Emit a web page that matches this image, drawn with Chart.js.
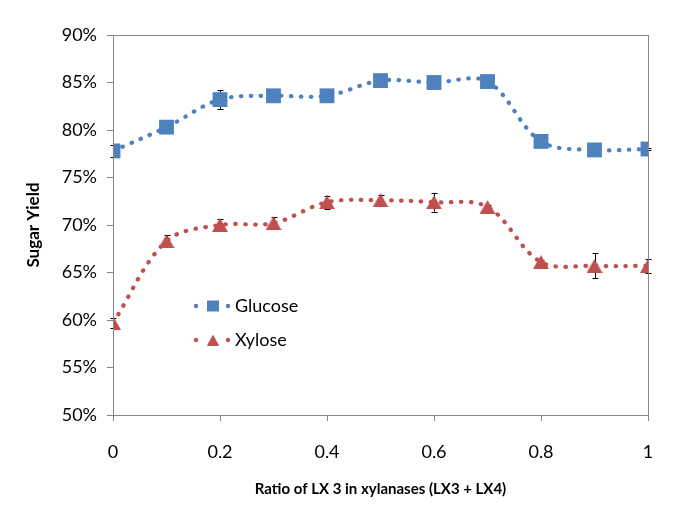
<!DOCTYPE html>
<html lang="en">
<head>
  <meta charset="UTF-8">
  <title>Sugar Yield</title>
  <script src="https://cdn.jsdelivr.net/npm/chart.js"></script>
  <style>
    html, body { margin: 0; padding: 0; background: #fff; }
  </style>
</head>
<body>
  <canvas id="chart" width="685" height="524"></canvas>
  <script>
    // values (sugar yield in %)
    const ratios = [0, 0.1, 0.2, 0.3, 0.4, 0.5, 0.6, 0.7, 0.8, 0.9, 1];
    const glucose = [77.8, 80.3, 83.2, 83.6, 83.6, 85.2, 85.0, 85.1, 78.8, 77.9, 78.0];
    const glucoseErr = [0.6, 0.1, 1.0, 0.6, 0.2, 0.2, 0.2, 0.2, 0.1, 0.1, 0.1];
    const xylose = [59.7, 68.3, 70.0, 70.2, 72.4, 72.6, 72.4, 71.9, 66.1, 65.7, 65.7];
    const xyloseErr = [0.5, 0.6, 0.6, 0.6, 0.7, 0.6, 1.0, 0.2, 0.2, 1.3, 0.7];
    const seriesNames = ['Glucose', 'Xylose'];
    const xTicks = [0, 0.2, 0.4, 0.6, 0.8, 1];

    const blue = '#4F81BD';
    const red = '#C0504D';
    const frame = '#868686';
    const fam = 'Lato, "Open Sans", sans-serif';

    // triangle marker centred on its box (like the spreadsheet one)
    function triangleMarker(w, h, color) {
      const c = document.createElement('canvas');
      c.width = w; c.height = h;
      const g = c.getContext('2d');
      g.fillStyle = color;
      g.beginPath();
      g.moveTo(w / 2, 0); g.lineTo(w, h); g.lineTo(0, h);
      g.closePath(); g.fill();
      return c;
    }
    const triBig = triangleMarker(16, 14, red);
    const triSmall = triangleMarker(12, 11, red);

    // error bars behind the markers, drawn through the scales
    const errorBars = {
      id: 'errorBars',
      beforeDatasetsDraw(chart) {
        const ctx = chart.ctx;
        const xs = chart.scales.x, ys = chart.scales.y;
        ctx.save();
        ctx.strokeStyle = '#000';
        ctx.lineWidth = 1;
        chart.data.datasets.forEach(ds => {
          ds.data.forEach((p, i) => {
            const e = ds.errors[i];
            if (!e) return;
            const x = Math.round(xs.getPixelForValue(p.x)) + 0.5;
            const y1 = ys.getPixelForValue(p.y - e);
            const y2 = ys.getPixelForValue(p.y + e);
            ctx.beginPath();
            ctx.moveTo(x, y1); ctx.lineTo(x, y2);
            ctx.moveTo(x - 3, Math.round(y1) + 0.5); ctx.lineTo(x + 3, Math.round(y1) + 0.5);
            ctx.moveTo(x - 3, Math.round(y2) + 0.5); ctx.lineTo(x + 3, Math.round(y2) + 0.5);
            ctx.stroke();
          });
        });
        ctx.restore();
      }
    };

    // frame around plot + legend inside it
    const boxAndLegend = {
      id: 'boxAndLegend',
      afterDraw(chart) {
        const ctx = chart.ctx;
        const a = chart.chartArea;
        ctx.save();
        ctx.strokeStyle = frame;
        ctx.lineWidth = 1;
        ctx.strokeRect(Math.round(a.left) + 0.5, Math.round(a.top) + 0.5,
                       Math.round(a.right - a.left), Math.round(a.bottom - a.top));

        const rows = [[306, 0], [340, 1]];
        rows.forEach(([y, i]) => {
          const ds = chart.data.datasets[i];
          ctx.fillStyle = ds.borderColor;
          [196, 228].forEach(x => {
            ctx.beginPath(); ctx.arc(x, y, 2.2, 0, Math.PI * 2); ctx.fill();
          });
          if (i === 0) {
            ctx.fillRect(207, y - 5.5, 12, 11);
          } else {
            ctx.drawImage(triSmall, 207, y - 5.5);
          }
          ctx.fillStyle = '#000';
          ctx.font = '18px ' + fam;
          ctx.textBaseline = 'middle';
          ctx.fillText(seriesNames[i], 235, y);
        });
        ctx.restore();
      }
    };

    const tickFont = { family: fam, size: 18 };

    new Chart(document.getElementById('chart'), {
      type: 'line',
      data: {
        datasets: [
          {
            label: seriesNames[0],
            data: ratios.map((x, i) => ({ x, y: glucose[i] })),
            errors: glucoseErr,
            borderColor: blue,
            backgroundColor: blue,
            pointStyle: 'rect',
            pointRadius: 10.5,
            pointBorderWidth: 0
          },
          {
            label: seriesNames[1],
            data: ratios.map((x, i) => ({ x, y: xylose[i] })),
            errors: xyloseErr,
            borderColor: red,
            backgroundColor: red,
            pointStyle: triBig,
            pointRadius: 8,
            pointBorderWidth: 0
          }
        ].map(d => Object.assign(d, {
          borderWidth: 4.2,
          borderDash: [0.5, 9.5],
          borderCapStyle: 'round',
          tension: 0.35,
          fill: false,
          pointHoverRadius: d.pointRadius
        }))
      },
      options: {
        responsive: false,
        animation: false,
        events: [],
        layout: { padding: { top: 35, right: 37, left: 0, bottom: 0 } },
        plugins: { legend: { display: false }, tooltip: { enabled: false } },
        scales: {
          x: {
            type: 'linear',
            min: 0, max: 1,
            afterBuildTicks: s => { s.ticks = xTicks.map(v => ({ value: v })); },
            afterFit: s => { s.height = 109; },
            ticks: { font: tickFont, color: '#000', padding: 20,
                     callback: v => String(v) },
            grid: { drawOnChartArea: false, tickLength: 6, color: frame },
            border: { color: frame },
            title: { display: true, text: 'Ratio of LX 3 in xylanases (LX3 + LX4)',
                     font: { family: fam, size: 15, weight: 'bold' }, color: '#000',
                     padding: { bottom: 26 } }
          },
          y: {
            min: 50, max: 90,
            afterFit: s => { s.width = 113; },
            ticks: { stepSize: 5, font: tickFont, color: '#000', padding: 10,
                     callback: v => v + '%' },
            grid: { drawOnChartArea: false, tickLength: 6, color: frame },
            border: { color: frame },
            title: { display: true, text: 'Sugar Yield',
                     font: { family: fam, size: 17, weight: 'bold' }, color: '#000',
                     padding: { top: 23 } }
          }
        }
      },
      plugins: [errorBars, boxAndLegend]
    });
  </script>
</body>
</html>
